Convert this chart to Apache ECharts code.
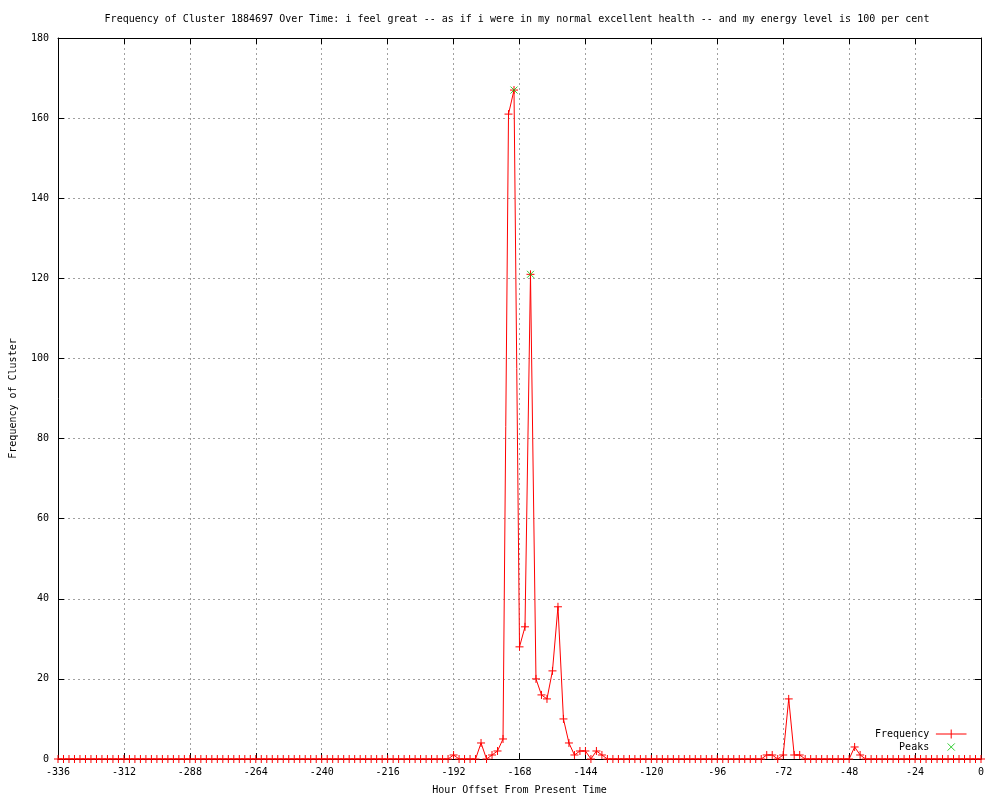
<!DOCTYPE html>
<html>
<head>
<meta charset="utf-8">
<script src="https://cdn.jsdelivr.net/npm/echarts@6/dist/echarts.min.js"></script>
<style>html,body{margin:0;padding:0;background:#fff;}#chart{width:1000px;height:800px;}</style>
</head>
<body>
<div id="chart"></div>
<script>
// Hours: every 2 hours from -336 to 0
var hourStart = -336, hourStep = 2;
// Frequency values, one per 2-hour slot (12 per row = 24 hours)
var frequency = [
  0,0,0,0,0,0,0,0,0,0,0,0,
  0,0,0,0,0,0,0,0,0,0,0,0,
  0,0,0,0,0,0,0,0,0,0,0,0,
  0,0,0,0,0,0,0,0,0,0,0,0,
  0,0,0,0,0,0,0,0,0,0,0,0,
  0,0,0,0,0,0,0,0,0,0,0,0,
  1,0,0,0,0,4,0,1,2,5,161,167,
  28,33,121,20,16,15,22,38,10,4,1,2,
  2,0,2,1,0,0,0,0,0,0,0,0,
  0,0,0,0,0,0,0,0,0,0,0,0,
  0,0,0,0,0,0,0,0,0,1,1,0,
  1,15,1,1,0,0,0,0,0,0,0,0,
  0,3,1,0,0,0,0,0,0,0,0,0,
  0,0,0,0,0,0,0,0,0,0,0,0,
  0
];
var peakHours = [-170, -164];
var peakValues = [167, 121];
var xTicks = { min: -336, max: 0, interval: 24 };
var yTicks = { min: 0, max: 180, interval: 20 };

var freqData = frequency.map(function (v, i) { return [hourStart + i * hourStep, v]; });
var peakData = peakHours.map(function (h, i) { return [h, peakValues[i]]; });

var FONT = 'DejaVu Sans Mono';
var plusPath = 'path://M0,5L10,5M5,0L5,10';
var xPath = 'path://M0,0L10,10M10,0L0,10';
var gridLine = { show: true, lineStyle: { color: '#a0a0a0', type: [2, 3], width: 1 } };
var axLine = { show: true, onZero: false, lineStyle: { color: '#000', width: 1 } };
var tick = { show: true, inside: true, length: 6, lineStyle: { color: '#000' } };
var lbl = { color: '#000', fontFamily: FONT, fontSize: 10 };

var chart = echarts.init(document.getElementById('chart'), null, { renderer: 'canvas' });
chart.setOption({
  animation: false,
  backgroundColor: '#fff',
  title: {
    text: 'Frequency of Cluster 1884697 Over Time: i feel great -- as if i were in my normal excellent health -- and my energy level is 100 per cent',
    left: 512, top: 9, textAlign: 'center',
    textStyle: { fontFamily: FONT, fontSize: 10, fontWeight: 'normal', color: '#000' }
  },
  grid: { left: 56, right: 19, top: 38, bottom: 40, containLabel: false },
  legend: {
    orient: 'vertical', right: 28, top: 724, align: 'right',
    itemWidth: 34, itemHeight: 9, itemGap: 3,
    textStyle: { fontFamily: FONT, fontSize: 10, color: '#000' },
    data: [
      { name: 'Frequency', icon: 'path://M0,5L34,5M17,0L17,10', itemStyle: { color: 'red', borderColor: 'red', borderWidth: 1 } },
      { name: 'Peaks', icon: 'path://M0,0L0,0M13,1L21,9M21,1L13,9M34,10L34,10', itemStyle: { color: '#00c000', borderColor: '#00c000', borderWidth: 1 } }
    ]
  },
  xAxis: [
    { type: 'value', position: 'bottom', min: xTicks.min, max: xTicks.max, interval: xTicks.interval,
      name: 'Hour Offset From Present Time', nameLocation: 'middle', nameGap: 26,
      nameTextStyle: { fontFamily: FONT, fontSize: 10, color: '#000' },
      axisLine: axLine, axisTick: tick, axisLabel: Object.assign({ margin: 8 }, lbl), splitLine: gridLine },
    { type: 'value', position: 'top', min: xTicks.min, max: xTicks.max, interval: xTicks.interval,
      axisLine: axLine, axisTick: tick, axisLabel: { show: false }, splitLine: { show: false } }
  ],
  yAxis: [
    { type: 'value', position: 'left', min: yTicks.min, max: yTicks.max, interval: yTicks.interval,
      name: 'Frequency of Cluster', nameLocation: 'middle', nameGap: 40,
      nameTextStyle: { fontFamily: FONT, fontSize: 10, color: '#000' },
      axisLine: axLine, axisTick: tick, axisLabel: Object.assign({ margin: 9 }, lbl), splitLine: gridLine },
    { type: 'value', position: 'right', min: yTicks.min, max: yTicks.max, interval: yTicks.interval,
      axisLine: axLine, axisTick: tick, axisLabel: { show: false }, splitLine: { show: false } }
  ],
  series: [
    { name: 'Frequency', type: 'line', data: freqData, xAxisIndex: 0, yAxisIndex: 0,
      symbol: plusPath, symbolSize: 8, showAllSymbol: true,
      lineStyle: { color: 'red', width: 1 },
      itemStyle: { color: 'red', borderColor: 'red', borderWidth: 1 },
      z: 3 },
    { name: 'Peaks', type: 'scatter', data: peakData, xAxisIndex: 0, yAxisIndex: 0,
      symbol: xPath, symbolSize: 7,
      itemStyle: { color: '#00c000', borderColor: '#00c000', borderWidth: 1 },
      z: 4 }
  ]
});
</script>
</body>
</html>
